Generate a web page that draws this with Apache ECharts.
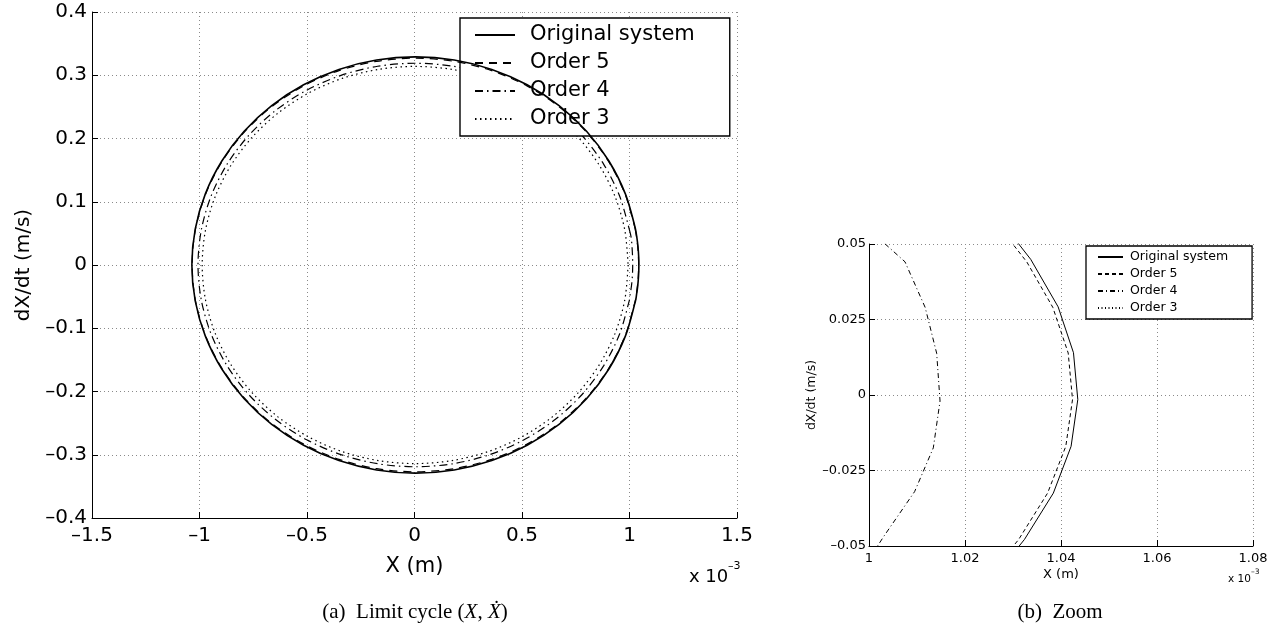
<!DOCTYPE html>
<html><head><meta charset="utf-8">
<script src="https://cdn.jsdelivr.net/npm/echarts@6/dist/echarts.min.js"></script>
<style>html,body{margin:0;padding:0;background:#fff}#c{width:1278px;height:635px}</style>
</head><body><div id="c"></div>
<script>
// ---- data (x in units of 1e-3 m, y in m/s) ----
const seriesNames = ['Original system', 'Order 5', 'Order 4', 'Order 3'];

const originalSystem = [
  [1.0277, 0.0571],
  [1.0337, 0.0449], [1.0394, 0.0292], [1.0426, 0.0140], [1.0435, -0.0015], [1.0421, -0.0170], [1.0384, -0.0325], [1.0324, -0.0478],
  [1.0277, -0.0571],
  [0.9808, -0.1125], [0.9042, -0.1645], [0.8003, -0.2115], [0.6722, -0.2520], [0.5238, -0.2849], [0.3595, -0.3092], [0.1845, -0.3240], [0.004, -0.329],
  [-0.1765, -0.3240], [-0.3515, -0.3092], [-0.5158, -0.2849], [-0.6642, -0.2520], [-0.7923, -0.2115], [-0.8962, -0.1645], [-0.9728, -0.1125], [-1.0197, -0.0571], [-1.0355, 0],
  [-1.0197, 0.0571], [-0.9728, 0.1125], [-0.8962, 0.1645], [-0.7923, 0.2115], [-0.6642, 0.2520], [-0.5158, 0.2849], [-0.3515, 0.3092], [-0.1765, 0.3240], [0.004, 0.329],
  [0.1845, 0.3240], [0.3595, 0.3092], [0.5238, 0.2849], [0.6722, 0.2520], [0.8003, 0.2115], [0.9042, 0.1645], [0.9808, 0.1125], [1.0277, 0.0571]
];

const order5 = [
  [1.0266, 0.0568],
  [1.0329, 0.0440], [1.0383, 0.0290], [1.0415, 0.0139], [1.0424, -0.0015], [1.0410, -0.0170], [1.0372, -0.0325], [1.0312, -0.0478],
  [1.0266, -0.0568],
  [0.9798, -0.1118], [0.9033, -0.1635], [0.7994, -0.2102], [0.6715, -0.2505], [0.5232, -0.2832], [0.3591, -0.3073], [0.1843, -0.3220], [0.004, -0.327],
  [-0.1763, -0.3220], [-0.3511, -0.3073], [-0.5152, -0.2832], [-0.6635, -0.2505], [-0.7914, -0.2102], [-0.8953, -0.1635], [-0.9718, -0.1118], [-1.0186, -0.0568], [-1.0344, 0],
  [-1.0186, 0.0568], [-0.9718, 0.1118], [-0.8953, 0.1635], [-0.7914, 0.2102], [-0.6635, 0.2505], [-0.5152, 0.2832], [-0.3511, 0.3073], [-0.1763, 0.3220], [0.004, 0.327],
  [0.1843, 0.3220], [0.3591, 0.3073], [0.5232, 0.2832], [0.6715, 0.2505], [0.7994, 0.2102], [0.9033, 0.1635], [0.9798, 0.1118], [1.0266, 0.0568]
];

const order4 = [
  [0.9996, 0.0554],
  [1.0075, 0.0441], [1.0117, 0.0290], [1.0141, 0.0138], [1.0148, -0.0020], [1.0134, -0.0175], [1.0095, -0.0320], [1.0030, -0.0470],
  [0.9996, -0.0554],
  [0.9540, -0.1091], [0.8795, -0.1595], [0.7784, -0.2051], [0.6539, -0.2444], [0.5095, -0.2763], [0.3498, -0.2998], [0.1795, -0.3142], [0.004, -0.319],
  [-0.1715, -0.3142], [-0.3418, -0.2998], [-0.5015, -0.2763], [-0.6459, -0.2444], [-0.7704, -0.2051], [-0.8715, -0.1595], [-0.9460, -0.1091], [-0.9916, -0.0554], [-1.007, 0],
  [-0.9916, 0.0554], [-0.9460, 0.1091], [-0.8715, 0.1595], [-0.7704, 0.2051], [-0.6459, 0.2444], [-0.5015, 0.2763], [-0.3418, 0.2998], [-0.1715, 0.3142], [0.004, 0.319],
  [0.1795, 0.3142], [0.3498, 0.2998], [0.5095, 0.2763], [0.6539, 0.2444], [0.7784, 0.2051], [0.8795, 0.1595], [0.9540, 0.1091], [0.9996, 0.0554]
];

const order3 = [
  [0.9935, 0], [0.9785, -0.0545], [0.9338, -0.1074], [0.8608, -0.1570], [0.7617, -0.2018], [0.6397, -0.2405], [0.4983, -0.2719], [0.3418, -0.2951], [0.1750, -0.3092], [0.003, -0.314],
  [-0.1690, -0.3092], [-0.3358, -0.2951], [-0.4923, -0.2719], [-0.6337, -0.2405], [-0.7557, -0.2018], [-0.8548, -0.1570], [-0.9278, -0.1074], [-0.9725, -0.0545], [-0.9875, 0],
  [-0.9725, 0.0545], [-0.9278, 0.1074], [-0.8548, 0.1570], [-0.7557, 0.2018], [-0.6337, 0.2405], [-0.4923, 0.2719], [-0.3358, 0.2951], [-0.1690, 0.3092], [0.003, 0.314],
  [0.1750, 0.3092], [0.3418, 0.2951], [0.4983, 0.2719], [0.6397, 0.2405], [0.7617, 0.2018], [0.8608, 0.1570], [0.9338, 0.1074], [0.9785, 0.0545], [0.9935, 0]
];

const cycleXTicks = [-1.5, -1, -0.5, 0, 0.5, 1, 1.5];
const cycleYTicks = [-0.4, -0.3, -0.2, -0.1, 0, 0.1, 0.2, 0.3, 0.4];
const zoomXTicks = [1, 1.02, 1.04, 1.06, 1.08];
const zoomYTicks = [-0.05, -0.025, 0, 0.025, 0.05];

// ---- styling ----
const FONT = 'DejaVu Sans';
const SERIF = '"Liberation Serif", "DejaVu Serif", serif';
const allData = [originalSystem, order5, order4, order3];
const bigTypes = ['solid', [8, 6], [8, 4, 1.5, 4], [1.5, 3.5]];
const bigWidths = [1.6, 1.2, 1.2, 1.2];
const smallTypes = ['solid', [4, 3], [5, 3, 1, 3], [1, 2.5]];
const smallWidths = [1, 1, 1, 1];

function fmt(v) {
  const r = +(+v).toFixed(4);
  return (r < 0 ? '\u2013' : '') + String(Math.abs(r));
}
function axisPair(ticks, fontSize, margin) {
  return {
    type: 'value',
    min: ticks[0], max: ticks[ticks.length - 1],
    interval: +(ticks[1] - ticks[0]).toFixed(6),
    axisLine: { show: true, onZero: false, lineStyle: { color: '#000', width: 1 } },
    axisTick: { show: true, inside: true, length: 6, lineStyle: { color: '#000', width: 1 } },
    axisLabel: { color: '#000', fontFamily: FONT, fontSize: fontSize, margin: margin, formatter: fmt, showMinLabel: true, showMaxLabel: true },
    splitLine: { show: true, lineStyle: { color: '#8a8a8a', width: 1, type: [1, 3] } }
  };
}

const chart = echarts.init(document.getElementById('c'), null, { renderer: 'canvas' });

const xA0 = Object.assign(axisPair(cycleXTicks, 20, 8), { gridIndex: 0, name: 'X (m)', nameLocation: 'middle', nameGap: 38,
  nameTextStyle: { color: '#000', fontFamily: FONT, fontSize: 21 } });
const yA0 = Object.assign(axisPair(cycleYTicks, 20, 5), { gridIndex: 0, name: 'dX/dt (m/s)', nameLocation: 'middle', nameGap: 55, nameRotate: 90,
  nameTextStyle: { color: '#000', fontFamily: FONT, fontSize: 20 } });
const xA1 = Object.assign(axisPair(zoomXTicks, 13, 6), { gridIndex: 1, name: 'X (m)', nameLocation: 'middle', nameGap: 22,
  nameTextStyle: { color: '#000', fontFamily: FONT, fontSize: 13 } });
const yA1 = Object.assign(axisPair(zoomYTicks, 13, 3), { gridIndex: 1, name: 'dX/dt (m/s)', nameLocation: 'middle', nameGap: 36, nameRotate: 90,
  nameTextStyle: { color: '#000', fontFamily: FONT, fontSize: 12.5 } });

const series = [];
seriesNames.forEach((n, i) => {
  series.push({
    type: 'line', name: n, xAxisIndex: 0, yAxisIndex: 0, data: allData[i],
    showSymbol: false, symbol: 'none', smooth: 0.3, clip: true, silent: true,
    itemStyle: { color: '#000' },
    lineStyle: { color: '#000', width: bigWidths[i], type: bigTypes[i] }, z: 2 + (3 - i)
  });
});
seriesNames.forEach((n, i) => {
  series.push({
    type: 'line', name: n + ' (zoom)', xAxisIndex: 1, yAxisIndex: 1, data: allData[i],
    showSymbol: false, symbol: 'none', smooth: false, clip: true, silent: true,
    itemStyle: { color: '#000' },
    lineStyle: { color: '#000', width: smallWidths[i], type: smallTypes[i] }, z: 2 + (3 - i)
  });
});

const txt = (x, y, text, size, extra) => ({
  type: 'text', x: x, y: y, z: 10,
  style: Object.assign({ text: text, fontSize: size, fontFamily: FONT, fill: '#000', align: 'left', verticalAlign: 'middle' }, extra || {})
});

chart.setOption({
  animation: false,
  backgroundColor: '#fff',
  grid: [
    { left: 92, top: 12, width: 645, height: 506, containLabel: false },
    { left: 869, top: 244, width: 384, height: 302, containLabel: false }
  ],
  xAxis: [xA0, xA1],
  yAxis: [yA0, yA1],
  legend: [
    {
      left: 460, top: 18, orient: 'vertical', itemWidth: 40, itemHeight: 14, itemGap: 6,
      padding: [6, 35, 6, 14], borderColor: '#000', borderWidth: 1.4, backgroundColor: '#fff',
      selectedMode: false, data: seriesNames, itemStyle: { opacity: 0 },
      textStyle: { color: '#000', fontFamily: FONT, fontSize: 21, lineHeight: 22, padding: [0, 0, 0, 10] }
    },
    {
      left: 1086, top: 246, orient: 'vertical', itemWidth: 25, itemHeight: 10, itemGap: 3,
      padding: [4, 24, 4, 11], borderColor: '#000', borderWidth: 1.3, backgroundColor: '#fff',
      selectedMode: false, data: seriesNames.map(n => n + ' (zoom)'), itemStyle: { opacity: 0 },
      formatter: n => n.replace(' (zoom)', ''),
      textStyle: { color: '#000', fontFamily: FONT, fontSize: 12.5, lineHeight: 14, padding: [0, 0, 0, 2] }
    }
  ],
  series: series,
  graphic: [
    txt(689, 577, 'x 10', 18),
    txt(728, 566, '\u20133', 11),
    txt(1228, 579, 'x 10', 10.5),
    txt(1251, 572, '\u20133', 7.5),
    txt(415, 612, '(a)  Limit cycle ({i|X}, {i|\u1E8A})', 21, { fontFamily: SERIF, align: 'center',
      rich: { i: { fontStyle: 'italic', fontFamily: SERIF, fontSize: 21 } } }),
    txt(1060, 612, '(b)  Zoom', 21, { fontFamily: SERIF, align: 'center' })
  ]
});
</script></body></html>
